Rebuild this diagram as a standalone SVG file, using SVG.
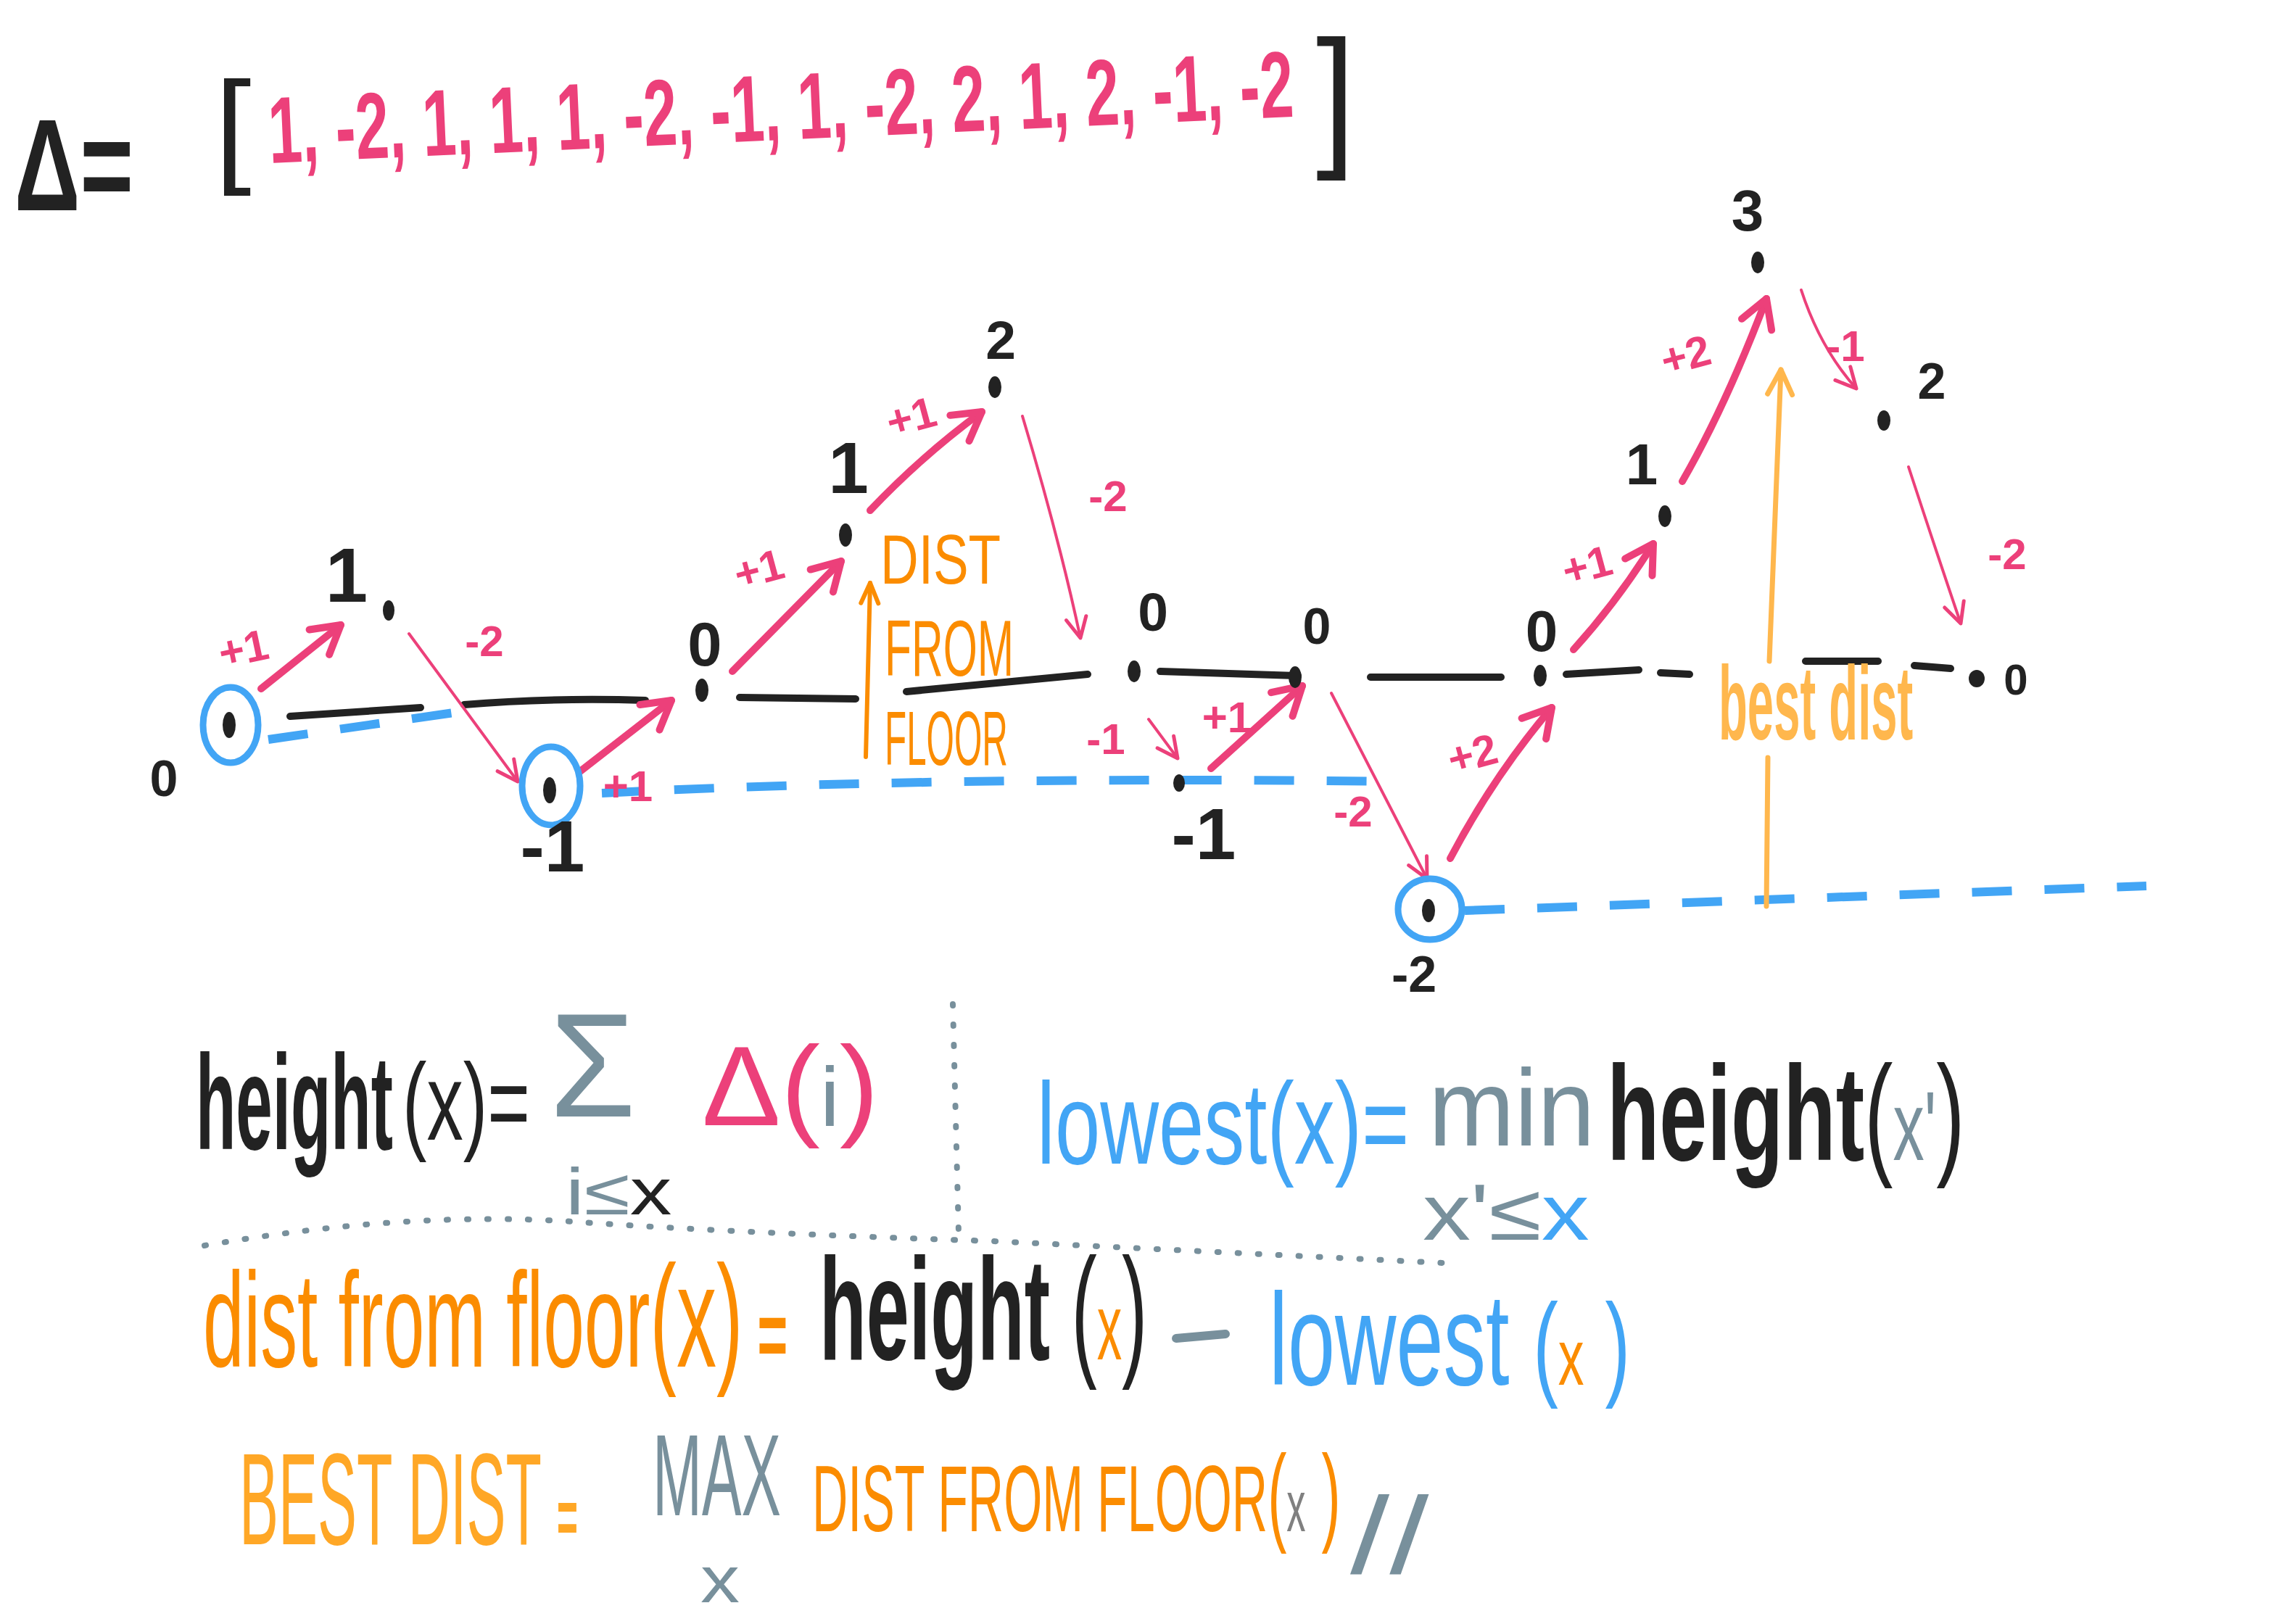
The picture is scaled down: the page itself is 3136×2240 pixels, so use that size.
<svg xmlns="http://www.w3.org/2000/svg" width="3136" height="2240" viewBox="0 0 3136 2240">
<style>
text{font-family:"Liberation Sans",Arial,sans-serif;font-weight:bold}
.k{fill:#222}
.pk{fill:#EC407A}
.bl{fill:#42A5F5}
.or{fill:#FB8C00}
.lo{fill:#FFB74D}
.gy{fill:#78909C}
.n{font-weight:normal}
.lab{font-size:60px;fill:#EC407A;text-anchor:middle}
.num{fill:#222;text-anchor:middle}
.dot{fill:#222}
.ring{fill:none;stroke:#42A5F5;stroke-width:9}
.base{fill:none;stroke:#222;stroke-width:10;stroke-linecap:round}
.floor{fill:none;stroke:#42A5F5;stroke-width:12;stroke-dasharray:55 45}
.a1{fill:none;stroke:#EC407A;stroke-width:10;stroke-linecap:round;marker-end:url(#hT)}
.a2{fill:none;stroke:#EC407A;stroke-width:4;stroke-linecap:round;marker-end:url(#hN)}
.sep{fill:none;stroke:#78909C;stroke-width:8;stroke-linecap:round;stroke-dasharray:2 26}
</style>
<defs>
<marker id="hT" viewBox="0 0 60 60" refX="54" refY="30" markerWidth="60" markerHeight="60" orient="auto" markerUnits="userSpaceOnUse">
<path d="M16,8 L54,30 L16,52" fill="none" stroke="#EC407A" stroke-width="10" stroke-linecap="round" stroke-linejoin="round"/>
</marker>
<marker id="hN" viewBox="0 0 40 40" refX="36" refY="20" markerWidth="40" markerHeight="40" orient="auto" markerUnits="userSpaceOnUse">
<path d="M8,6 L36,20 L8,34" fill="none" stroke="#EC407A" stroke-width="5" stroke-linecap="round" stroke-linejoin="round"/>
</marker>
<marker id="hO" viewBox="0 0 40 40" refX="36" refY="20" markerWidth="40" markerHeight="40" orient="auto" markerUnits="userSpaceOnUse">
<path d="M8,8 L36,20 L8,32" fill="none" stroke="#FB8C00" stroke-width="6" stroke-linecap="round" stroke-linejoin="round"/>
</marker>
<marker id="hL" viewBox="0 0 50 50" refX="44" refY="25" markerWidth="50" markerHeight="50" orient="auto" markerUnits="userSpaceOnUse">
<path d="M10,8 L44,25 L10,42" fill="none" stroke="#FFB74D" stroke-width="7" stroke-linecap="round" stroke-linejoin="round"/>
</marker>
</defs>
<rect width="3136" height="2240" fill="#fff"/>

<!-- Delta array -->
<g id="delta">
<text class="k" font-size="180" transform="translate(20 290) scale(0.7 1)">Δ=</text>
<text class="k n" font-size="140" transform="translate(296 234) scale(1.3 1.25)">[</text>
<text class="pk" font-size="130" transform="translate(372 225) rotate(-2.6) scale(0.64 1)">1, -2, 1, 1, 1, -2, -1, 1, -2, 2, 1, 2, -1, -2</text>
<text class="k n" font-size="150" transform="translate(1815 205) scale(1.3 1.42)">]</text>
</g>

<!-- baseline (height 0) and floors -->
<g id="guides">
<path class="base" d="M400,988 L580,976 M640,972 Q760,962 890,966 M1020,962 L1180,964 M1250,954 L1500,930 M1600,926 L1790,932 M1890,934 L2070,934 M2160,930 L2260,924 M2290,928 L2330,930 M2490,912 L2590,912 M2640,918 L2690,922"/>
<path class="floor" d="M370,1020 L660,978"/>
<path class="floor" d="M830,1094 Q1300,1070 1920,1078"/>
<path class="floor" d="M2020,1256 L2960,1222"/>
</g>

<!-- connectors -->
<g id="connectors">
<path class="a1" d="M360,950 L470,862"/>
<path class="a2" d="M564,874 L714,1078"/>
<path class="a1" d="M800,1064 L926,966"/>
<path class="a1" d="M1010,926 L1160,774"/>
<path class="a1" d="M1200,704 Q1270,630 1354,568"/>
<path class="a2" d="M1410,574 Q1460,740 1490,880"/>
<path class="a2" d="M1584,992 L1624,1046"/>
<path class="a1" d="M1670,1060 L1796,946"/>
<path class="a2" d="M1836,956 Q1910,1100 1968,1212"/>
<path class="a1" d="M2000,1184 Q2060,1070 2140,976"/>
<path class="a1" d="M2170,896 Q2230,830 2280,750"/>
<path class="a1" d="M2320,664 Q2380,560 2436,412"/>
<path class="a2" d="M2484,400 Q2510,480 2560,536"/>
<path class="a2" d="M2632,644 Q2670,760 2704,860"/>
<path d="M1194,1044 L1200,804" fill="none" stroke="#FB8C00" stroke-width="6" stroke-linecap="round" marker-end="url(#hO)"/>
<path d="M2436,1250 L2438,1045 M2440,912 L2456,510" fill="none" stroke="#FFB74D" stroke-width="7" stroke-linecap="round" marker-end="url(#hL)"/>
</g>

<!-- connector labels -->
<g id="edge-labels">
<text class="lab" x="340" y="915" transform="rotate(-12 340 915)">+1</text>
<text class="lab" x="668" y="905">-2</text>
<text class="lab" x="866" y="1105">+1</text>
<text class="lab" x="1052" y="805" transform="rotate(-15 1052 805)">+1</text>
<text class="lab" x="1262" y="595" transform="rotate(-15 1262 595)">+1</text>
<text class="lab" x="1528" y="705">-2</text>
<text class="lab" x="1525" y="1040" font-size="70">-1</text>
<text class="lab" x="1692" y="1010">+1</text>
<text class="lab" x="1866" y="1140">-2</text>
<text class="lab" x="2036" y="1060" transform="rotate(-15 2036 1060)">+2</text>
<text class="lab" x="2194" y="800" transform="rotate(-15 2194 800)">+1</text>
<text class="lab" x="2330" y="510" transform="rotate(-15 2330 510)">+2</text>
<text class="lab" x="2545" y="498">-1</text>
<text class="lab" x="2768" y="785">-2</text>
</g>

<!-- points -->
<g id="p0"><ellipse class="ring" cx="318" cy="1000" rx="38" ry="52"/><ellipse class="dot" cx="316" cy="1000" rx="9" ry="18"/><text class="num" x="226" y="1098" font-size="70">0</text></g>
<g id="p1"><ellipse class="dot" cx="536" cy="842" rx="8" ry="14"/><text class="num" x="478" y="830" font-size="105">1</text></g>
<g id="p2"><ellipse class="ring" cx="760" cy="1084" rx="40" ry="54"/><ellipse class="dot" cx="758" cy="1090" rx="9" ry="18"/><text class="num" x="762" y="1202" font-size="100">-1</text></g>
<g id="p3"><ellipse class="dot" cx="968" cy="952" rx="9" ry="16"/><text class="num" x="972" y="918" font-size="85">0</text></g>
<g id="p4"><ellipse class="dot" cx="1166" cy="738" rx="9" ry="16"/><text class="num" x="1170" y="680" font-size="100">1</text></g>
<g id="p5"><ellipse class="dot" cx="1372" cy="534" rx="9" ry="15"/><text class="num" x="1380" y="495" font-size="75">2</text></g>
<g id="p6"><ellipse class="dot" cx="1564" cy="926" rx="9" ry="15"/><text class="num" x="1590" y="870" font-size="75">0</text></g>
<g id="p7"><ellipse class="dot" cx="1626" cy="1080" rx="8" ry="12"/><text class="num" x="1660" y="1185" font-size="100">-1</text></g>
<g id="p8"><ellipse class="dot" cx="1786" cy="934" rx="9" ry="15"/><text class="num" x="1816" y="888" font-size="70">0</text></g>
<g id="p9"><ellipse class="ring" cx="1972" cy="1254" rx="44" ry="42"/><ellipse class="dot" cx="1970" cy="1256" rx="9" ry="16"/><text class="num" x="1950" y="1368" font-size="70">-2</text></g>
<g id="p10"><ellipse class="dot" cx="2124" cy="932" rx="9" ry="15"/><text class="num" x="2126" y="898" font-size="80">0</text></g>
<g id="p11"><ellipse class="dot" cx="2296" cy="712" rx="9" ry="15"/><text class="num" x="2264" y="668" font-size="80">1</text></g>
<g id="p12"><ellipse class="dot" cx="2424" cy="362" rx="9" ry="15"/><text class="num" x="2410" y="318" font-size="80">3</text></g>
<g id="p13"><ellipse class="dot" cx="2598" cy="580" rx="9" ry="14"/><text class="num" x="2664" y="550" font-size="70">2</text></g>
<g id="p14"><ellipse class="dot" cx="2726" cy="936" rx="11" ry="12"/><text class="num" x="2780" y="958" font-size="60">0</text></g>

<!-- annotations -->
<g id="dist-from-floor-label">
<text class="or n" font-size="96" transform="translate(1214 805) scale(0.76 1)">DIST</text>
<text class="or n" font-size="110" transform="translate(1220 932) scale(0.55 1)">FROM</text>
<text class="or n" font-size="105" transform="translate(1220 1055) scale(0.47 1)">FLOOR</text>
</g>
<g id="best-dist-label">
<text class="lo" font-size="145" transform="translate(2370 1020) scale(0.45 1)">best dist</text>
</g>

<!-- formulas -->
<g id="formula-height">
<text class="k" font-size="185" transform="translate(270 1585) scale(0.49 1)">height</text>
<text class="k n" font-size="150" transform="translate(555 1572) scale(0.67 1)">(x)=</text>
<text class="gy n" font-size="240" transform="translate(758 1540) scale(0.8 0.85)">Σ</text>
<text class="gy n" font-size="90" transform="translate(780 1675) scale(1.28 1)">i≤<tspan class="k">x</tspan></text>
<text class="pk n" font-size="155" transform="translate(968 1552) scale(1.05 1)">Δ(<tspan class="gy" font-size="115">i</tspan>)</text>
</g>
<g id="separators">
<path class="sep" d="M1314,1385 L1322,1700"/>
<path class="sep" d="M282,1718 Q560,1670 790,1685 Q1000,1700 1370,1712 L1990,1742"/>
</g>
<g id="formula-lowest">
<text class="bl n" font-size="160" transform="translate(1430 1605) scale(0.7 1)">lowest(x)=</text>
<text class="gy n" font-size="150" transform="translate(1970 1580) scale(0.95 1)">min</text>
<text class="k" font-size="185" transform="translate(2216 1600) scale(0.64 1)">height<tspan class="n">(</tspan><tspan class="gy n" font-size="135">x'</tspan><tspan class="n">)</tspan></text>
<text class="gy n" font-size="110" transform="translate(1962 1710) scale(1.2 1)">x'≤<tspan class="bl">x</tspan></text>
</g>
<g id="formula-dist">
<text class="or n" font-size="185" transform="translate(280 1885) scale(0.55 1)">dist from floor<tspan font-size="200">(x)</tspan><tspan font-weight="bold" font-size="130"> =</tspan></text>
<text class="k" font-size="200" transform="translate(1130 1875) scale(0.53 1)">height <tspan class="n">(</tspan><tspan class="or n" font-size="130">x</tspan><tspan class="n">)</tspan></text>
<path d="M1622,1846 L1690,1840" stroke="#78909C" stroke-width="12" stroke-linecap="round"/>
<text class="bl n" font-size="180" transform="translate(1750 1910) scale(0.65 1)">lowest <tspan font-size="160">(</tspan><tspan class="or" font-size="110">x</tspan><tspan font-size="160"> )</tspan></text>
</g>
<g id="formula-best">
<text class="n" font-size="180" fill="#FFA726" transform="translate(330 2130) scale(0.45 1)">BEST DIST <tspan font-size="110" font-weight="bold">=</tspan></text>
<text class="gy n" font-size="160" transform="translate(900 2090) scale(0.51 1)">MAX</text>
<text class="gy n" font-size="90" transform="translate(966 2210) scale(1.2 1)">x</text>
<text class="or n" font-size="130" transform="translate(1120 2112) scale(0.525 1)">DIST FROM FLOOR<tspan font-size="150">(</tspan><tspan fill="#808080" font-size="100">x</tspan><tspan font-size="150"> )</tspan></text>
<text class="gy n" font-size="150" transform="translate(1862 2170) scale(1.3 1)">//</text>
</g>
</svg>
